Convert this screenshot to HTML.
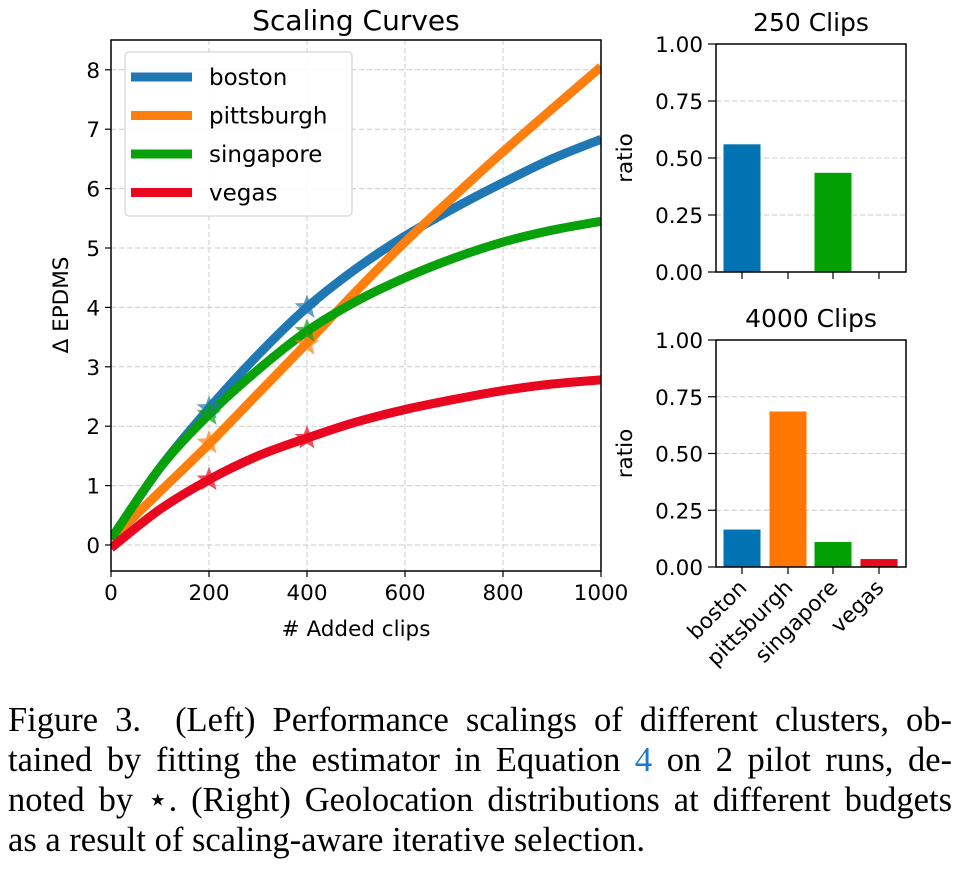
<!DOCTYPE html>
<html><head><meta charset="utf-8"><style>
body{margin:0;background:#fff;width:964px;height:872px;overflow:hidden;}
svg text{font-family:"DejaVu Sans","Liberation Sans",sans-serif;fill:#000;}
.cap{position:absolute;left:8px;width:944px;font-family:"Liberation Serif",serif;font-size:34.5px;line-height:40px;text-align:justify;text-align-last:justify;color:#000;white-space:nowrap;}
</style></head><body>
<svg id="fig" width="964" height="700" style="position:absolute;left:0;top:0"></svg>
<div class="cap" style="top:700px;white-space:normal">Figure 3. &nbsp;(Left) Performance scalings of different clusters, ob-</div>
<div class="cap" style="top:740px;white-space:normal">tained by fitting the estimator in Equation <span style="color:#1f77d4">4</span> on 2 pilot runs, de-</div>
<div class="cap" style="top:780px;white-space:normal">noted by &#8902;. (Right) Geolocation distributions at different budgets</div>
<div class="cap" style="top:820px;text-align-last:left">as a result of scaling-aware iterative selection.</div>
<script>
const xs=[0,100,200,300,400,500,600,700,800,900,1000];
const boston=[0.1,1.3,2.3,3.2,4.0,4.65,5.2,5.67,6.1,6.5,6.83];
const pittsburgh=[0.1,0.9,1.7,2.55,3.4,4.27,5.1,5.87,6.62,7.34,8.05];
const singapore=[0.1,1.3,2.2,2.95,3.6,4.1,4.5,4.83,5.1,5.3,5.45];
const vegas=[-0.05,0.6,1.1,1.5,1.8,2.07,2.28,2.45,2.6,2.71,2.78];
const starX=[200,400];
const starBoston=[2.3,4.0],starPitt=[1.72,3.38],starSing=[2.2,3.6],starVegas=[1.1,1.8];
const cats=['boston','pittsburgh','singapore','vegas'];
const ratio250=[0.56,0,0.435,0];
const ratio4000=[0.165,0.685,0.11,0.035];
const xTicks=[0,200,400,600,800,1000];
const yTicks=[0,1,2,3,4,5,6,7,8];
const rTicks=[0,0.25,0.5,0.75,1.0];
const lineColors=['#1f77b4','#ff7f0e','#09a10a','#e8071f'];
const barColors=['#0173b2','#ff7700','#02a002','#e50a1e'];
const NS='http://www.w3.org/2000/svg';
const svg=document.getElementById('fig');
function el(t,a,p){const e=document.createElementNS(NS,t);for(const k in a)e.setAttribute(k,a[k]);(p||svg).appendChild(e);return e;}
const L={l:111,r:601,t:40,b:571};
const sx=v=>L.l+(v/1000)*(L.r-L.l);
const sy=v=>545-v*59.4;
let e=el('text',{x:356,y:30,'font-size':28,'text-anchor':'middle'});e.textContent='Scaling Curves';


xTicks.forEach(t=>{
 let g=el('line',{x1:sx(t),x2:sx(t),y1:L.t,y2:L.b,stroke:'#ccc','stroke-dasharray':'5,3','stroke-width':1});
 
 
 el('line',{x1:sx(t),x2:sx(t),y1:L.b,y2:L.b+6,stroke:'#000','stroke-width':1.2});
 let tx=el('text',{x:sx(t),y:L.b+29,'font-size':21.5,'text-anchor':'middle'});tx.textContent=t;
 
 
});
yTicks.forEach(t=>{
 let g=el('line',{x1:L.l,x2:L.r,y1:sy(t),y2:sy(t),stroke:'#ccc','stroke-dasharray':'5,3','stroke-width':1});
 
 
 el('line',{x1:L.l-6,x2:L.l,y1:sy(t),y2:sy(t),stroke:'#000','stroke-width':1.2});
 let tx=el('text',{x:L.l-11,y:sy(t)+8,'font-size':21.5,'text-anchor':'end'});tx.textContent=t;
 
 
});
e=el('text',{x:356,y:636,'font-size':21.5,'text-anchor':'middle'});e.textContent='# Added clips';


e=el('text',{x:0,y:0,'font-size':21.5,'text-anchor':'middle',transform:'translate(68,305) rotate(-90)'});e.textContent='Δ EPDMS';


const clip=el('clipPath',{id:'cl'});el('rect',{x:L.l,y:L.t,width:L.r-L.l,height:L.b-L.t},clip);
function smooth(pts){let d='M'+pts[0][0]+','+pts[0][1];for(let i=0;i<pts.length-1;i++){const p0=pts[Math.max(0,i-1)],p1=pts[i],p2=pts[i+1],p3=pts[Math.min(pts.length-1,i+2)];d+=' C'+(p1[0]+(p2[0]-p0[0])/6)+','+(p1[1]+(p2[1]-p0[1])/6)+' '+(p2[0]-(p3[0]-p1[0])/6)+','+(p2[1]-(p3[1]-p1[1])/6)+' '+p2[0]+','+p2[1];}return d;}
function star(cx,cy,r){let p=[];for(let i=0;i<10;i++){const a=-Math.PI/2+i*Math.PI/5,rr=i%2?r*0.42:r;p.push((cx+rr*Math.cos(a)).toFixed(1)+','+(cy+rr*Math.sin(a)).toFixed(1));}return p.join(' ');}
const series=[boston,pittsburgh,singapore,vegas];
const stars=[starBoston,starPitt,starSing,starVegas];
series.forEach((s,i)=>{
 let p=el('path',{d:smooth(xs.map((x,j)=>[sx(x),sy(s[j])])),fill:'none',stroke:lineColors[i],'stroke-width':9,'clip-path':'url(#cl)'});
 
 
});
stars.forEach((s,i)=>{s.forEach((v,j)=>{
 let p=el('polygon',{points:star(sx(starX[j]),sy(v),13),fill:lineColors[i],'fill-opacity':0.7});
 
 
});});
el('rect',{x:L.l,y:L.t,width:L.r-L.l,height:L.b-L.t,fill:'none',stroke:'#000','stroke-width':1.5});
const lg=el('g',{});


el('rect',{x:125,y:52,width:227,height:164,rx:4,fill:'#fff','fill-opacity':0.85,stroke:'#ccc'},lg);
cats.forEach((c,i)=>{const y=77+i*38.5;
 el('line',{x1:131,x2:192,y1:y,y2:y,stroke:lineColors[i],'stroke-width':9},lg);
 let t=el('text',{x:209,y:y+8,'font-size':23},lg);t.textContent=c;
 
 
});
const cx=[742,788,833,879];
function bars(top,bot,vals,title,name,labels){
 const ry=v=>bot-v*(bot-top);
 let t=el('text',{x:811,y:top-13,'font-size':25,'text-anchor':'middle'});t.textContent=title;
 
 
 rTicks.forEach(v=>{
  if(v>0&&v<1){let g=el('line',{x1:716,x2:906,y1:ry(v),y2:ry(v),stroke:'#ccc','stroke-dasharray':'5,3'});}
  el('line',{x1:708,x2:716,y1:ry(v),y2:ry(v),stroke:'#000','stroke-width':1.2});
  let tx=el('text',{x:703,y:ry(v)+8,'font-size':21.5,'text-anchor':'end'});tx.textContent=v.toFixed(2);
  
  
 });
 vals.forEach((v,i)=>{
  if(v>0){let b=el('rect',{x:cx[i]-18.5,y:ry(v),width:37,height:bot-ry(v),fill:barColors[i]});
  
  }
  el('line',{x1:cx[i],x2:cx[i],y1:bot,y2:bot+7,stroke:'#000','stroke-width':1.2});
  if(labels){let l=el('text',{x:0,y:0,'font-size':21.5,'text-anchor':'end',transform:'translate('+(cx[i]+6)+','+(bot+22)+') rotate(-45)'});l.textContent=cats[i];
  
  }
 });
 el('rect',{x:716,y:top,width:190,height:bot-top,fill:'none',stroke:'#000','stroke-width':1.5});
 let yl=el('text',{x:0,y:0,'font-size':21.5,'text-anchor':'middle',transform:'translate('+632+','+((top+bot)/2)+') rotate(-90)'});yl.textContent='ratio';
 
 
}
bars(44,272,ratio250,'250 Clips','250-clips',false);
bars(340,567,ratio4000,'4000 Clips','4000-clips',true);
</script>
</body></html>
